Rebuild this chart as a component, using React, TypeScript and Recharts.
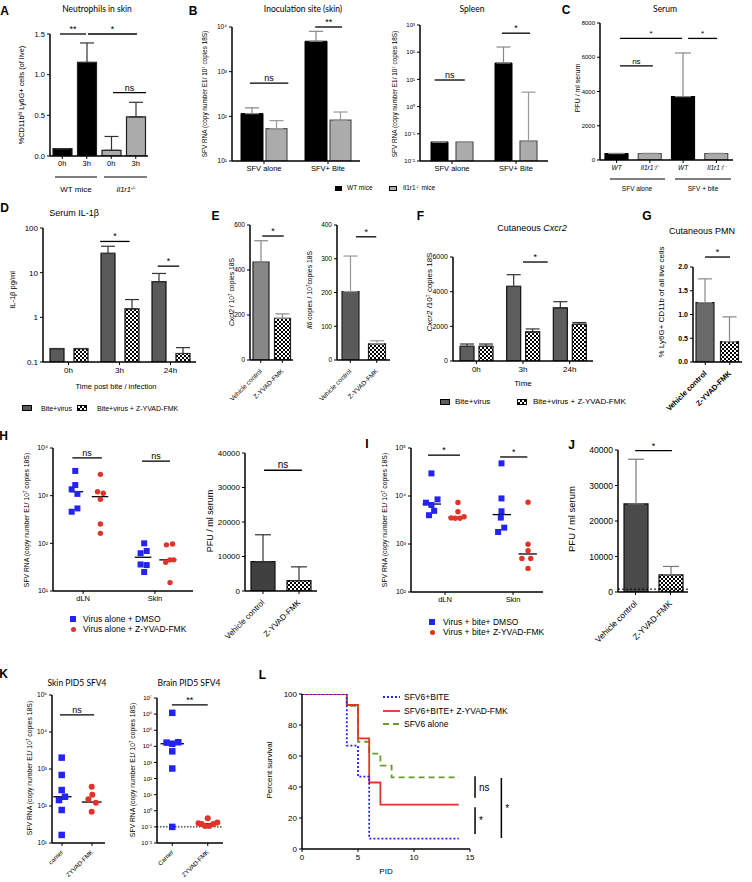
import React from 'react';
import {
  BarChart, Bar, XAxis, YAxis, ErrorBar, Cell, ReferenceLine,
  ScatterChart, Scatter, LineChart, Line,
} from 'recharts';

const FONT = '"Liberation Sans", Arial, Helvetica, sans-serif';
const TFONT = 'Lato, "Liberation Sans", sans-serif';
const BLUE = '#2424f2';
const RED = '#e0342a';
const GREEN = '#6b9a2e';

// ---------- A ----------
const aCats = ['0h', '3h', '0h', '3h'];
const aVals = [0.09, 1.15, 0.07, 0.48];
const aTop = [0.09, 1.39, 0.24, 0.66];
const aGroup = ['wt', 'wt', 'ko', 'ko'];
const aTicks = [0, 0.5, 1, 1.5];
// ---------- B ----------
const bCats = ['SFV alone', 'SFV+ Bite'];
const bSkinWT = [115, 4800];
const bSkinWTTop = [155, 8000];
const bSkinKO = [53, 82];
const bSkinKOTop = [80, 125];
const bSpleenWT = [0.05, 40];
const bSpleenWTTop = [0.05, 155];
const bSpleenKO = [0.05, 0.054];
const bSpleenKOTop = [0.05, 3.4];
// ---------- C ----------
const cCats = ['WT', 'Il1r1⁻/⁻', 'WT', 'Il1r1⁻/⁻'];
const cVals = [380, 380, 3700, 380];
const cTop = [380, 380, 6250, 380];
const cGroup = ['wt', 'ko', 'wt', 'ko'];
// ---------- D ----------
const dCats = ['0h', '3h', '24h'];
const dBite = [0.2, 27, 6.3];
const dBiteTop = [0.2, 39, 9.6];
const dZ = [0.2, 1.55, 0.155];
const dZTop = [0.2, 2.5, 0.21];
// ---------- E ----------
const eCats = ['Vehicle control', 'Z-YVAD-FMK'];
const eCxcl2 = [435, 185];
const eCxcl2Top = [530, 205];
const eIl6 = [203, 48];
const eIl6Top = [308, 57];
// ---------- F ----------
const fCats = ['0h', '3h', '24h'];
const fBite = [850, 4300, 3060];
const fBiteTop = [980, 4980, 3420];
const fZ = [850, 1680, 2120];
const fZTop = [980, 1850, 2220];
// ---------- G ----------
const gVals = [1.25, 0.43];
const gTop = [1.75, 0.95];
// ---------- H ----------
const hCats = ['dLN', 'Skin'];
const hDmsoX = [0.89, 0.89, 0.84, 0.92, 0.92, 0.84, 1.85, 1.885, 1.8, 1.885, 1.8, 1.85];
const hDmsoY = [3300, 1670, 1360, 1090, 540, 460, 100, 69, 62, 35, 36, 25];
const hZX = [1.24, 1.2, 1.28, 1.24, 1.24, 1.24, 2.16, 2.245, 2.21, 2.15, 2.26, 2.21];
const hZY = [2800, 1210, 1120, 840, 255, 162, 93, 97, 45, 40, 45, 15];
const hMed = [1210, 955, 51, 45];
const hMedX = [[0.82, 1.0], [1.12, 1.35], [1.72, 1.95], [2.06, 2.3]];
const hPfu = [8500, 3000];
const hPfuTop = [16300, 7000];
// ---------- I ----------
const iDmsoX = [0.8, 0.72, 0.89, 0.8, 0.84, 0.765, 1.83, 1.83, 1.83, 1.82, 1.87, 1.78];
const iDmsoY = [29600, 7250, 8500, 6500, 4900, 3980, 47900, 8900, 4800, 3550, 2190, 1780];
const iZX = [1.19, 1.19, 1.09, 1.15, 1.22, 1.28, 2.22, 2.22, 2.22, 2.13, 2.26, 2.22];
const iZY = [7300, 4700, 3500, 3450, 3450, 3700, 7400, 990, 725, 500, 500, 310];
const iMed = [6800, 3600, 4100, 620];
const iMedX = [[0.67, 0.94], [1.05, 1.31], [1.7, 1.97], [2.08, 2.35]];
// ---------- J ----------
const jPfu = [24800, 4800];
const jPfuTop = [37400, 7200];
const jLimit = 800;
// ---------- K ----------
const kCats = ['carrier', 'ZYVAD-FMK'];
const k1CarX = [0.99, 0.99, 0.99, 1.1, 0.9, 0.99, 0.99];
const k1CarY = [2030, 690, 270, 178, 145, 78, 16.5];
const k1ZX = [1.99, 2.01, 1.88, 2.13, 1.99];
const k1ZY = [330, 200, 152, 123, 70];
const k1Med = [178, 128];
const k1MedX = [[0.71, 1.32], [1.66, 2.32]];
const k2Cats = ['Carrier', 'ZYVAD-FMK'];
const k2CarX = [1.0, 0.84, 1.17, 1.0, 1.0, 1.0, 1.0];
const k2CarY = [1.2e6, 17000, 18000, 14500, 4900, 420, 0.1];
const k2ZX = [2.0, 1.74, 1.83, 1.93, 2.04, 2.16, 2.27];
const k2ZY = [0.34, 0.17, 0.15, 0.115, 0.115, 0.15, 0.19];
const k2Med = [14500, 0.16];
const k2MedX = [[0.67, 1.33], [1.69, 2.31]];
const k2Limit = 0.1;
// ---------- L ----------
const lBiteT = [0, 4, 5, 6, 14];
const lBiteS = [100, 66.7, 46.7, 6.7, 6.7];
const lZT = [0, 4, 5, 6, 7, 14];
const lZS = [100, 92.9, 71.4, 42.9, 28.6, 28.6];
const lAloneT = [0, 4, 5, 6, 7, 8, 14];
const lAloneS = [100, 92.3, 69.2, 61.5, 53.8, 46.2, 46.2];

// ---------- significance annotations (data coordinates) ----------
type Sig = { x1: number; x2: number; y: number; t: string };
const sigA: Sig[] = [
  { x1: 0.41, x2: 1.47, y: 1.5, t: '**' },
  { x1: 1.55, x2: 3.55, y: 1.5, t: '*' },
  { x1: 2.57, x2: 3.92, y: 0.78, t: 'ns' },
];
const sigB1: Sig[] = [
  { x1: 0.28, x2: 0.88, y: 556, t: 'ns' },
  { x1: 1.3, x2: 1.72, y: 10000, t: '**' },
];
const sigB2: Sig[] = [
  { x1: 0.23, x2: 0.7, y: 9.5, t: 'ns' },
  { x1: 1.28, x2: 1.72, y: 500, t: '*' },
];
const sigC: Sig[] = [
  { x1: 0.6, x2: 1.59, y: 5500, t: 'ns' },
  { x1: 0.6, x2: 2.47, y: 7100, t: '*' },
  { x1: 2.65, x2: 3.52, y: 7100, t: '*' },
];
const sigD: Sig[] = [
  { x1: 1.12, x2: 1.7, y: 50, t: '*' },
  { x1: 2.25, x2: 2.67, y: 14, t: '*' },
];
const sigE1: Sig[] = [{ x1: 0.57, x2: 1.57, y: 551, t: '*' }];
const sigE2: Sig[] = [{ x1: 0.72, x2: 1.48, y: 365, t: '*' }];
const sigF: Sig[] = [{ x1: 1.5, x2: 2.03, y: 5710, t: '*' }];
const sigG: Sig[] = [{ x1: 0.49, x2: 1.51, y: 2.21, t: '*' }];
const sigH1: Sig[] = [
  { x1: 0.85, x2: 1.26, y: 6200, t: 'ns' },
  { x1: 1.82, x2: 2.21, y: 5300, t: 'ns' },
];
const sigH2: Sig[] = [{ x1: 0.53, x2: 1.58, y: 35000, t: 'ns' }];
const sigI: Sig[] = [
  { x1: 0.75, x2: 1.22, y: 71000, t: '*' },
  { x1: 1.81, x2: 2.21, y: 65000, t: '*' },
];
const sigJ: Sig[] = [{ x1: 0.49, x2: 1.54, y: 39800, t: '*' }];
const sigK1: Sig[] = [{ x1: 0.93, x2: 2.07, y: 29000, t: 'ns' }];
const sigK2: Sig[] = [{ x1: 0.99, x2: 2.0, y: 3.7e6, t: '**' }];
type VSig = { x: number; y1: number; y2: number; t: string };
const sigL: VSig[] = [
  { x: 15.45, y1: 47, y2: 33, t: 'ns' },
  { x: 15.45, y1: 27, y2: 9.7, t: '*' },
  { x: 17.8, y1: 45.8, y2: 7.1, t: '*' },
];

// ---------- helpers ----------
const SUPS: Record<string, string> = { '-': '⁻', '0': '⁰', '1': '¹', '2': '²', '3': '³', '4': '⁴', '5': '⁵', '6': '⁶', '7': '⁷', '8': '⁸', '9': '⁹' };
const sup = (n: number) => String(n).split('').map((c) => SUPS[c]).join('');
const pow10 = (v: number) => '10' + sup(Math.round(Math.log10(v)));
const decades = (a: number, b: number) => {
  const r: number[] = [];
  for (let e = a; e <= b; e++) r.push(Math.pow(10, e));
  return r;
};

type Box = { x: number; y: number; w: number; h: number };
type Plot = { l: number; t: number; r: number; b: number };
const frame = (box: Box, p: Plot) => ({
  style: { position: 'absolute', left: box.x, top: box.y, width: box.w, height: box.h } as React.CSSProperties,
  margin: { top: p.t - box.y, right: box.x + box.w - p.r, left: 0, bottom: 0 },
  yw: p.l - box.x,
  xh: box.y + box.h - p.b,
  w: box.w,
  h: box.h,
});

const AX = { stroke: '#000', strokeWidth: 1.5 };
const TL = { stroke: '#000', strokeWidth: 1 };
const tk = (s: number, extra: any = {}) => ({ fontSize: s, fill: '#000', ...extra });

const sigLines = (list: Sig[], size: number, axisId?: string) =>
  list.map((s, i) => (
    <ReferenceLine
      key={'sig' + i}
      {...(axisId ? { xAxisId: axisId } : {})}
      segment={[{ x: s.x1, y: s.y }, { x: s.x2, y: s.y }]}
      stroke="#000"
      strokeWidth={1.3}
      ifOverflow="visible"
      label={{ value: s.t, position: 'top', offset: 2, fontSize: size, fill: '#000' }}
    />
  ));

const rotTick = (size: number, bold = false, names?: string[], gap = 5) => (p: any) => (
  <g transform={`translate(${p.x},${p.y + gap}) rotate(-45)`}>
    <text x={0} y={0} dy="0.35em" textAnchor="end" fontSize={size} fontWeight={bold ? 700 : 400} fill="#000">
      {names ? names[Math.round(p.payload.value) - 1] : p.payload.value}
    </text>
  </g>
);

const sq = (size: number) => (p: any) => (
  <rect x={p.cx - size / 2} y={p.cy - size / 2} width={size} height={size} fill={BLUE} />
);
const dot = (r: number) => (p: any) => <circle cx={p.cx} cy={p.cy} r={r} fill={RED} />;

const pts = (xs: number[], ys: number[]) => xs.map((x, i) => ({ x, y: ys[i] }));
const medLines = (vals: number[], xs: number[][]) =>
  vals.map((v, i) => (
    <ReferenceLine key={'m' + i} segment={[{ x: xs[i][0], y: v }, { x: xs[i][1], y: v }]} stroke="#000" strokeWidth={1.3} ifOverflow="visible" />
  ));

type TP = { x: number; y: number; s?: number; a?: 'start' | 'middle' | 'end'; r?: number; b?: boolean; i?: boolean; f?: string; children?: React.ReactNode };
function T({ x, y, s = 8, a = 'middle', r = 0, b = false, i = false, f = FONT, children }: TP) {
  const tx = a === 'middle' ? '-50%' : a === 'end' ? '-100%' : '0';
  return (
    <div
      style={{
        position: 'absolute', left: x, top: y,
        transform: `translate(${tx},-50%) rotate(${r}deg)`,
        fontSize: s, fontWeight: b ? 700 : 400, fontStyle: i ? 'italic' : 'normal',
        fontFamily: f, whiteSpace: 'nowrap', lineHeight: 1, color: '#000',
      }}
    >
      {children}
    </div>
  );
}
const Sup = ({ children }: { children: React.ReactNode }) => (
  <span style={{ fontSize: '0.65em', verticalAlign: '0.45em' }}>{children}</span>
);
const Swatch = ({ x, y, w, h, fill, chk }: { x: number; y: number; w: number; h: number; fill?: string; chk?: boolean }) => (
  <div
    style={{
      position: 'absolute', left: x, top: y - h / 2, width: w, height: h, boxSizing: 'border-box',
      border: '1px solid #000',
      background: chk ? 'repeating-conic-gradient(#000 0 25%, #fff 0 50%) 0 0 / 4px 4px' : fill,
    }}
  />
);

// ---------- rows (pos = category slot centre on the hidden numeric axis) ----------
const aRows = aCats.map((c, i) => ({ name: c, pos: i + 0.5, v: aVals[i], e: [0, aTop[i] - aVals[i]] }));
const pair = (cats: string[], a: number[], aT: number[], b: number[], bT: number[]) =>
  cats.map((c, i) => ({ name: c, pos: i + 0.5, a: a[i], ae: [0, aT[i] - a[i]], b: b[i], be: [0, bT[i] - b[i]] }));
const b1Rows = pair(bCats, bSkinWT, bSkinWTTop, bSkinKO, bSkinKOTop);
const b2Rows = pair(bCats, bSpleenWT, bSpleenWTTop, bSpleenKO, bSpleenKOTop);
const cRows = cCats.map((c, i) => ({ name: c, pos: i + 0.5, v: cVals[i], e: [0, cTop[i] - cVals[i]] }));
const dRows = pair(dCats, dBite, dBiteTop, dZ, dZTop);
const fRows = pair(fCats, fBite, fBiteTop, fZ, fZTop);
const single = (cats: string[], v: number[], t: number[]) => cats.map((c, i) => ({ name: c, pos: i + 0.5, v: v[i], e: [0, t[i] - v[i]] }));
const e1Rows = single(eCats, eCxcl2, eCxcl2Top);
const e2Rows = single(eCats, eIl6, eIl6Top);
const gRows = single(eCats, gVals, gTop);
const h2Rows = single(eCats, hPfu, hPfuTop);
const jRows = single(eCats, jPfu, jPfuTop);
const lBite = lBiteT.map((t, i) => ({ t, s: lBiteS[i] }));
const lZ = lZT.map((t, i) => ({ t, s: lZS[i] }));
const lAlone = lAloneT.map((t, i) => ({ t, s: lAloneS[i] }));

const hiddenAxis = (n: number) => (
  <XAxis xAxisId="n" dataKey="pos" type="number" domain={[0, n]} hide allowDataOverflow />
);

// ---------- frames ----------
const fA = frame({ x: 0, y: 20, w: 155, h: 152 }, { l: 50, t: 34, r: 148, b: 156 });
const fB1 = frame({ x: 190, y: 10, w: 173, h: 166 }, { l: 232, t: 27, r: 360, b: 161 });
const fB2 = frame({ x: 376, y: 10, w: 176, h: 166 }, { l: 420, t: 25, r: 548, b: 161 });
const fC = frame({ x: 565, y: 10, w: 175, h: 164 }, { l: 600, t: 23, r: 733, b: 160 });
const fD = frame({ x: 0, y: 215, w: 200, h: 160 }, { l: 43, t: 228, r: 196, b: 362 });
const fE1 = frame({ x: 205, y: 215, w: 92, h: 200 }, { l: 250, t: 225, r: 293, b: 360 });
const fE2 = frame({ x: 300, y: 215, w: 95, h: 200 }, { l: 337, t: 225, r: 390, b: 360 });
const fF = frame({ x: 420, y: 245, w: 178, h: 130 }, { l: 453, t: 257, r: 593, b: 361 });
const fG = frame({ x: 660, y: 238, w: 92, h: 184 }, { l: 693, t: 267, r: 742, b: 362 });
const fH1 = frame({ x: 0, y: 440, w: 200, h: 165 }, { l: 53, t: 448, r: 193, b: 591 });
const fH2 = frame({ x: 200, y: 440, w: 123, h: 215 }, { l: 245, t: 453, r: 317, b: 591 });
const fI = frame({ x: 380, y: 440, w: 170, h: 165 }, { l: 411, t: 448, r: 543, b: 592 });
const fJ = frame({ x: 575, y: 440, w: 120, h: 220 }, { l: 618, t: 450, r: 688, b: 592 });
const fK1 = frame({ x: 20, y: 690, w: 90, h: 192 }, { l: 52, t: 695, r: 105, b: 843 });
const fK2 = frame({ x: 115, y: 690, w: 115, h: 192 }, { l: 157, t: 698, r: 223, b: 843 });
const fL = frame({ x: 262, y: 680, w: 260, h: 186 }, { l: 302, t: 694, r: 470, b: 849 });

const grayFill = '#ababab';

export default function App() {
  return (
    <div style={{ position: 'absolute', left: 0, top: 0, width: 752, height: 882, background: '#fff', fontFamily: FONT, overflow: 'hidden' }}>
      <svg width={0} height={0} style={{ position: 'absolute' }}>
        <defs>
          <pattern id="chk" width={4} height={4} patternUnits="userSpaceOnUse">
            <rect width={4} height={4} fill="#fff" />
            <rect width={2} height={2} fill="#000" />
            <rect x={2} y={2} width={2} height={2} fill="#000" />
          </pattern>
        </defs>
      </svg>

      {/* group brackets */}
      <svg width={752} height={882} style={{ position: 'absolute', left: 0, top: 0 }}>
        <line x1={55} x2={97} y1={177} y2={177} stroke="#000" strokeWidth={1.2} />
        <line x1={104} x2={147} y1={177} y2={177} stroke="#000" strokeWidth={1.2} />
        <line x1={610} x2={665} y1={179} y2={179} stroke="#000" strokeWidth={1} />
        <line x1={675} x2={731} y1={179} y2={179} stroke="#000" strokeWidth={1} />
      </svg>

      {/* ================= A ================= */}
      <div style={fA.style}>
        <BarChart width={fA.w} height={fA.h} data={aRows} margin={fA.margin} barCategoryGap={0}>
          <XAxis dataKey="name" height={fA.xh} interval={0} tick={tk(7.5)} axisLine={AX} tickLine={TL} tickSize={3} />
          {hiddenAxis(4)}
          <YAxis width={fA.yw} domain={[0, 1.5]} ticks={aTicks} allowDataOverflow tickFormatter={(v: number) => v.toFixed(1)} tick={tk(7.5)} axisLine={AX} tickLine={TL} tickSize={3} />
          <Bar dataKey="v" barSize={19} stroke="#222" strokeWidth={1.2} isAnimationActive={false}>
            {aRows.map((r, i) => <Cell key={i} fill={aGroup[i] === 'wt' ? '#000' : grayFill} />)}
            <ErrorBar dataKey="e" width={7} stroke="#333" strokeWidth={1.2} />
          </Bar>
          {sigLines(sigA, 9, 'n')}
        </BarChart>
      </div>
      <T x={4.5} y={11} s={12} b>A</T>
      <T x={97} y={9} s={8.5} f={TFONT}>Neutrophils in skin</T>
      <T x={22} y={95} s={7.3} r={-90}>%CD11b<Sup>hi</Sup> Ly6G+ cells (of live)</T>
      <T x={76} y={190} s={8}>WT mice</T>
      <T x={126} y={190} s={7.5} i>Il1r1<Sup>-/-</Sup></T>

      {/* ================= B ================= */}
      <div style={fB1.style}>
        <BarChart width={fB1.w} height={fB1.h} data={b1Rows} margin={fB1.margin} barGap={3}>
          <XAxis dataKey="name" height={fB1.xh} interval={0} tick={tk(7.5)} axisLine={AX} tickLine={TL} tickSize={3} />
          {hiddenAxis(2)}
          <YAxis width={fB1.yw} type="number" scale="log" domain={[10, 10000]} ticks={decades(1, 4)} allowDataOverflow tickFormatter={pow10} tick={tk(6.5)} axisLine={AX} tickLine={TL} tickSize={3} />
          <Bar dataKey="a" barSize={22} fill="#000" stroke="#000" isAnimationActive={false}>
            <ErrorBar dataKey="ae" width={7} stroke="#888" strokeWidth={1.2} />
          </Bar>
          <Bar dataKey="b" barSize={21} fill={grayFill} stroke="#555" strokeWidth={1.2} isAnimationActive={false}>
            <ErrorBar dataKey="be" width={7} stroke="#999" strokeWidth={1.2} />
          </Bar>
          {sigLines(sigB1, 9, 'n')}
        </BarChart>
      </div>
      <div style={fB2.style}>
        <BarChart width={fB2.w} height={fB2.h} data={b2Rows} margin={fB2.margin} barGap={8}>
          <XAxis dataKey="name" height={fB2.xh} interval={0} tick={tk(7.5)} axisLine={AX} tickLine={TL} tickSize={3} />
          {hiddenAxis(2)}
          <YAxis width={fB2.yw} type="number" scale="log" domain={[0.01, 1000]} ticks={decades(-2, 3)} allowDataOverflow tickFormatter={pow10} tick={tk(6)} axisLine={AX} tickLine={TL} tickSize={3} />
          <Bar dataKey="a" barSize={17} fill="#000" stroke="#000" isAnimationActive={false}>
            <ErrorBar dataKey="ae" width={7} stroke="#888" strokeWidth={1.2} />
          </Bar>
          <Bar dataKey="b" barSize={17} fill={grayFill} stroke="#555" strokeWidth={1.2} isAnimationActive={false}>
            <ErrorBar dataKey="be" width={7} stroke="#999" strokeWidth={1.2} />
          </Bar>
          {sigLines(sigB2, 9, 'n')}
        </BarChart>
      </div>
      <T x={193} y={11} s={12} b>B</T>
      <T x={303} y={9} s={8.5} f={TFONT}>Inoculation site (skin)</T>
      <T x={472} y={9} s={8.5} f={TFONT}>Spleen</T>
      <T x={205} y={94} s={6.4} r={-90}>SFV RNA (copy number E1/ 10<Sup>7</Sup> copies 18S)</T>
      <T x={395} y={94} s={6.4} r={-90}>SFV RNA (copy number E1/ 10<Sup>7</Sup> copies 18S)</T>
      <Swatch x={335} y={188} w={7} h={5} fill="#000" />
      <T x={347} y={188} s={6.5} a="start">WT mice</T>
      <Swatch x={389} y={188} w={8} h={5} fill={grayFill} />
      <T x={403} y={188} s={6.5} a="start">Il1r1<Sup>-/-</Sup> mice</T>

      {/* ================= C ================= */}
      <div style={fC.style}>
        <BarChart width={fC.w} height={fC.h} data={cRows} margin={fC.margin} barCategoryGap={0}>
          <XAxis dataKey="name" height={fC.xh} interval={0} tick={tk(6.5, { fontStyle: 'italic' })} axisLine={AX} tickLine={TL} tickSize={3} />
          {hiddenAxis(4)}
          <YAxis width={fC.yw} domain={[0, 8000]} ticks={[0, 2000, 4000, 6000, 8000]} allowDataOverflow tick={tk(6)} axisLine={AX} tickLine={TL} tickSize={3} />
          <Bar dataKey="v" barSize={23} strokeWidth={1.2} isAnimationActive={false}>
            {cRows.map((r, i) => <Cell key={i} fill={cGroup[i] === 'wt' ? '#000' : grayFill} stroke={cGroup[i] === 'wt' ? '#000' : '#555'} />)}
            <ErrorBar dataKey="e" width={8} stroke="#888" strokeWidth={1.2} />
          </Bar>
          {sigLines(sigC, 8, 'n')}
        </BarChart>
      </div>
      <T x={566} y={10} s={12} b>C</T>
      <T x={665} y={9} s={8.5} f={TFONT}>Serum</T>
      <T x={577} y={88} s={7} r={-90}>PFU / ml serum</T>
      <T x={637} y={189} s={6.5}>SFV alone</T>
      <T x={703} y={189} s={6.5}>SFV + bite</T>

      {/* ================= D ================= */}
      <div style={fD.style}>
        <BarChart width={fD.w} height={fD.h} data={dRows} margin={fD.margin} barGap={10}>
          <XAxis dataKey="name" height={fD.xh} interval={0} tick={tk(8)} axisLine={AX} tickLine={TL} tickSize={3} />
          {hiddenAxis(3)}
          <YAxis width={fD.yw} type="number" scale="log" domain={[0.1, 100]} ticks={[0.1, 1, 10, 100]} allowDataOverflow tickFormatter={(v: number) => String(v)} tick={tk(8)} axisLine={AX} tickLine={TL} tickSize={3} />
          <Bar dataKey="a" barSize={14} fill="#5a5a5a" stroke="#111" strokeWidth={1.2} isAnimationActive={false}>
            <ErrorBar dataKey="ae" width={7} stroke="#333" strokeWidth={1.2} />
          </Bar>
          <Bar dataKey="b" barSize={14} fill="url(#chk)" stroke="#111" strokeWidth={1.2} isAnimationActive={false}>
            <ErrorBar dataKey="be" width={7} stroke="#333" strokeWidth={1.2} />
          </Bar>
          {sigLines(sigD, 9, 'n')}
        </BarChart>
      </div>
      <T x={4.5} y={208} s={12} b>D</T>
      <T x={74} y={213} s={9}>Serum IL-1β</T>
      <T x={13} y={290} s={7.5} r={-90}>IL-1β pg/ml</T>
      <T x={116} y={387} s={7.5}>Time post bite / infection</T>
      <Swatch x={22} y={408} w={10} h={6} fill="#5a5a5a" />
      <T x={41} y={408} s={7} a="start">Bite+virus</T>
      <Swatch x={77} y={408} w={10} h={6} chk />
      <T x={97} y={408} s={7} a="start">Bite+virus + Z-YVAD-FMK</T>

      {/* ================= E ================= */}
      <div style={fE1.style}>
        <BarChart width={fE1.w} height={fE1.h} data={e1Rows} margin={fE1.margin} barCategoryGap={0}>
          <XAxis dataKey="name" height={fE1.xh} interval={0} tick={rotTick(6.5)} axisLine={AX} tickLine={TL} tickSize={3} />
          {hiddenAxis(2)}
          <YAxis width={fE1.yw} domain={[0, 600]} ticks={[0, 200, 400, 600]} allowDataOverflow tick={tk(6.5)} axisLine={AX} tickLine={TL} tickSize={3} />
          <Bar dataKey="v" barSize={16} stroke="#222" strokeWidth={1.2} isAnimationActive={false}>
            <Cell fill="#878787" />
            <Cell fill="url(#chk)" />
            <ErrorBar dataKey="e" width={7} stroke="#888" strokeWidth={1.2} />
          </Bar>
          {sigLines(sigE1, 9, 'n')}
        </BarChart>
      </div>
      <div style={fE2.style}>
        <BarChart width={fE2.w} height={fE2.h} data={e2Rows} margin={fE2.margin} barCategoryGap={0}>
          <XAxis dataKey="name" height={fE2.xh} interval={0} tick={rotTick(6.5)} axisLine={AX} tickLine={TL} tickSize={3} />
          {hiddenAxis(2)}
          <YAxis width={fE2.yw} domain={[0, 400]} ticks={[0, 100, 200, 300, 400]} allowDataOverflow tick={tk(6.5)} axisLine={AX} tickLine={TL} tickSize={3} />
          <Bar dataKey="v" barSize={17} stroke="#222" strokeWidth={1.2} isAnimationActive={false}>
            <Cell fill="#5a5a5a" />
            <Cell fill="url(#chk)" />
            <ErrorBar dataKey="e" width={7} stroke="#999" strokeWidth={1.2} />
          </Bar>
          {sigLines(sigE2, 9, 'n')}
        </BarChart>
      </div>
      <T x={215.5} y={215.5} s={12} b>E</T>
      <T x={232} y={292} s={6.8} r={-90}><i>Cxcl2</i> / 10<Sup>7</Sup> copies 18S</T>
      <T x={310} y={290} s={6.8} r={-90}><i>Il6</i> copies / 10<Sup>7</Sup>copies 18S</T>

      {/* ================= F ================= */}
      <div style={fF.style}>
        <BarChart width={fF.w} height={fF.h} data={fRows} margin={fF.margin} barGap={5}>
          <XAxis dataKey="name" height={fF.xh} interval={0} tick={tk(8)} axisLine={AX} tickLine={TL} tickSize={3} />
          {hiddenAxis(3)}
          <YAxis width={fF.yw} domain={[0, 6000]} ticks={[0, 2000, 4000, 6000]} allowDataOverflow tick={tk(7)} axisLine={AX} tickLine={TL} tickSize={3} />
          <Bar dataKey="a" barSize={14} fill="#5d5d5d" stroke="#111" strokeWidth={1.2} isAnimationActive={false}>
            <ErrorBar dataKey="ae" width={7} stroke="#333" strokeWidth={1.2} />
          </Bar>
          <Bar dataKey="b" barSize={14} fill="url(#chk)" stroke="#111" strokeWidth={1.2} isAnimationActive={false}>
            <ErrorBar dataKey="be" width={7} stroke="#333" strokeWidth={1.2} />
          </Bar>
          {sigLines(sigF, 9, 'n')}
        </BarChart>
      </div>
      <T x={420.5} y={215.5} s={12} b>F</T>
      <T x={532} y={228} s={9}>Cutaneous <i>Cxcr2</i></T>
      <T x={430} y={292} s={8} r={-90}><i>Cxcr2</i> /10<Sup>7</Sup> copies 18S</T>
      <T x={523} y={384} s={8}>Time</T>
      <Swatch x={440} y={402} w={10} h={6} fill="#5d5d5d" />
      <T x={455} y={402} s={8} a="start">Bite+virus</T>
      <Swatch x={517} y={402} w={10} h={6} chk />
      <T x={533} y={402} s={8} a="start">Bite+virus + Z-YVAD-FMK</T>

      {/* ================= G ================= */}
      <div style={fG.style}>
        <BarChart width={fG.w} height={fG.h} data={gRows} margin={fG.margin} barCategoryGap={0}>
          <XAxis dataKey="name" height={fG.xh} interval={0} tick={rotTick(7.5, true)} axisLine={AX} tickLine={TL} tickSize={3} />
          {hiddenAxis(2)}
          <YAxis width={fG.yw} domain={[0, 2]} ticks={[0, 0.5, 1, 1.5, 2]} allowDataOverflow tickFormatter={(v: number) => v.toFixed(1)} tick={tk(7, { fontWeight: 700 })} axisLine={AX} tickLine={TL} tickSize={3} />
          <Bar dataKey="v" barSize={18} stroke="#222" strokeWidth={1.2} isAnimationActive={false}>
            <Cell fill="#6a6a6a" />
            <Cell fill="url(#chk)" />
            <ErrorBar dataKey="e" width={7} stroke="#888" strokeWidth={1.2} />
          </Bar>
          {sigLines(sigG, 9, 'n')}
        </BarChart>
      </div>
      <T x={647} y={216} s={12} b>G</T>
      <T x={669} y={231} s={9} a="start">Cutaneous PMN</T>
      <T x={662} y={302} s={8} r={-90}>% Ly6G+ CD11b of all live cells</T>

      {/* ================= H ================= */}
      <div style={fH1.style}>
        <ScatterChart width={fH1.w} height={fH1.h} margin={fH1.margin}>
          <XAxis type="number" dataKey="x" domain={[0.58, 2.53]} ticks={[1, 2]} allowDataOverflow tickFormatter={(v: number) => hCats[Math.round(v) - 1]} height={fH1.xh} tick={tk(7.5)} axisLine={AX} tickLine={TL} tickSize={3} />
          <YAxis type="number" dataKey="y" scale="log" domain={[10, 10000]} ticks={decades(1, 4)} allowDataOverflow tickFormatter={pow10} width={fH1.yw} tick={tk(7)} axisLine={AX} tickLine={TL} tickSize={3} />
          <Scatter data={pts(hDmsoX, hDmsoY)} shape={sq(6)} isAnimationActive={false} />
          <Scatter data={pts(hZX, hZY)} shape={dot(2.7)} isAnimationActive={false} />
          {medLines(hMed, hMedX)}
          {sigLines(sigH1, 9)}
        </ScatterChart>
      </div>
      <div style={fH2.style}>
        <BarChart width={fH2.w} height={fH2.h} data={h2Rows} margin={fH2.margin} barCategoryGap={0}>
          <XAxis dataKey="name" height={fH2.xh} interval={0} tick={rotTick(8)} axisLine={AX} tickLine={TL} tickSize={3} />
          {hiddenAxis(2)}
          <YAxis width={fH2.yw} domain={[0, 40000]} ticks={[0, 10000, 20000, 30000, 40000]} allowDataOverflow tick={tk(8)} axisLine={AX} tickLine={TL} tickSize={3} />
          <Bar dataKey="v" barSize={24} stroke="#111" strokeWidth={1.2} isAnimationActive={false}>
            <Cell fill="#404040" />
            <Cell fill="url(#chk)" />
            <ErrorBar dataKey="e" width={8} stroke="#333" strokeWidth={1.2} />
          </Bar>
          {sigLines(sigH2, 10, 'n')}
        </BarChart>
      </div>
      <T x={3.5} y={436} s={12} b>H</T>
      <T x={27} y={520} s={6.8} r={-90}>SFV RNA (copy number E1/ 10<Sup>7</Sup> copies 18S)</T>
      <T x={210} y={521} s={9} r={-90}>PFU / ml serum</T>
      <div style={{ position: 'absolute', left: 70, top: 616, width: 6, height: 6, background: BLUE }} />
      <T x={83} y={619} s={8.5} a="start">Virus alone + DMSO</T>
      <div style={{ position: 'absolute', left: 70.5, top: 626.5, width: 5, height: 5, borderRadius: '50%', background: RED }} />
      <T x={83} y={629} s={8.5} a="start">Virus alone + Z-YVAD-FMK</T>

      {/* ================= I ================= */}
      <div style={fI.style}>
        <ScatterChart width={fI.w} height={fI.h} margin={fI.margin}>
          <XAxis type="number" dataKey="x" domain={[0.5, 2.44]} ticks={[1, 2]} allowDataOverflow tickFormatter={(v: number) => hCats[Math.round(v) - 1]} height={fI.xh} tick={tk(7.5)} axisLine={AX} tickLine={TL} tickSize={3} />
          <YAxis type="number" dataKey="y" scale="log" domain={[100, 100000]} ticks={decades(2, 5)} allowDataOverflow tickFormatter={pow10} width={fI.yw} tick={tk(7)} axisLine={AX} tickLine={TL} tickSize={3} />
          <Scatter data={pts(iDmsoX, iDmsoY)} shape={sq(6)} isAnimationActive={false} />
          <Scatter data={pts(iZX, iZY)} shape={dot(2.7)} isAnimationActive={false} />
          {medLines(iMed, iMedX)}
          {sigLines(sigI, 9)}
        </ScatterChart>
      </div>
      <T x={367} y={444} s={12} b>I</T>
      <T x={385} y={520} s={6.8} r={-90}>SFV RNA (copy number E1/ 10<Sup>7</Sup> copies 18S)</T>
      <div style={{ position: 'absolute', left: 429, top: 619, width: 6, height: 6, background: BLUE }} />
      <T x={443} y={622} s={8.5} a="start">Virus + bite+ DMSO</T>
      <div style={{ position: 'absolute', left: 429.5, top: 629.5, width: 5, height: 5, borderRadius: '50%', background: RED }} />
      <T x={443} y={632} s={8.5} a="start">Virus + bite+ Z-YVAD-FMK</T>

      {/* ================= J ================= */}
      <div style={fJ.style}>
        <BarChart width={fJ.w} height={fJ.h} data={jRows} margin={fJ.margin} barCategoryGap={0}>
          <XAxis dataKey="name" height={fJ.xh} interval={0} tick={rotTick(8.5)} axisLine={AX} tickLine={TL} tickSize={3} />
          {hiddenAxis(2)}
          <YAxis width={fJ.yw} domain={[0, 40000]} ticks={[0, 10000, 20000, 30000, 40000]} allowDataOverflow tick={tk(8.5)} axisLine={AX} tickLine={TL} tickSize={3} />
          <Bar dataKey="v" barSize={24} stroke="#111" strokeWidth={1.2} isAnimationActive={false}>
            <Cell fill="#4a4a4a" />
            <Cell fill="url(#chk)" />
            <ErrorBar dataKey="e" width={8} stroke="#777" strokeWidth={1.2} />
          </Bar>
          <ReferenceLine y={jLimit} stroke="#000" strokeDasharray="2 2" strokeWidth={1} />
          {sigLines(sigJ, 9, 'n')}
        </BarChart>
      </div>
      <T x={571.5} y={445} s={12} b>J</T>
      <T x={572} y={519} s={9.5} r={-90}>PFU / ml serum</T>

      {/* ================= K ================= */}
      <div style={fK1.style}>
        <ScatterChart width={fK1.w} height={fK1.h} margin={fK1.margin}>
          <XAxis type="number" dataKey="x" domain={[0.667, 2.433]} ticks={[1, 2]} allowDataOverflow height={fK1.xh} tick={rotTick(6.2, false, kCats, 3)} axisLine={AX} tickLine={TL} tickSize={3} />
          <YAxis type="number" dataKey="y" scale="log" domain={[10, 100000]} ticks={decades(1, 5)} allowDataOverflow tickFormatter={pow10} width={fK1.yw} tick={tk(6.5)} axisLine={AX} tickLine={TL} tickSize={3} />
          <Scatter data={pts(k1CarX, k1CarY)} shape={sq(6.5)} isAnimationActive={false} />
          <Scatter data={pts(k1ZX, k1ZY)} shape={dot(3)} isAnimationActive={false} />
          {medLines(k1Med, k1MedX)}
          {sigLines(sigK1, 9)}
        </ScatterChart>
      </div>
      <div style={fK2.style}>
        <ScatterChart width={fK2.w} height={fK2.h} margin={fK2.margin}>
          <XAxis type="number" dataKey="x" domain={[0.57, 2.43]} ticks={[1, 2]} allowDataOverflow height={fK2.xh} tick={rotTick(6.2, false, k2Cats, 3)} axisLine={AX} tickLine={TL} tickSize={3} />
          <YAxis type="number" dataKey="y" scale="log" domain={[0.01, 1e7]} ticks={decades(-2, 7)} allowDataOverflow tickFormatter={pow10} width={fK2.yw} tick={tk(6)} axisLine={AX} tickLine={TL} tickSize={3} />
          <ReferenceLine y={k2Limit} stroke="#000" strokeDasharray="1.5 1.5" strokeWidth={1} />
          <Scatter data={pts(k2CarX, k2CarY)} shape={sq(6.5)} isAnimationActive={false} />
          <Scatter data={pts(k2ZX, k2ZY)} shape={dot(3)} isAnimationActive={false} />
          {medLines(k2Med, k2MedX)}
          {sigLines(sigK2, 9)}
        </ScatterChart>
      </div>
      <T x={3.5} y={674} s={12} b>K</T>
      <T x={77} y={683} s={8.5} f={TFONT}>Skin PID5 SFV4</T>
      <T x={189} y={683} s={8.5} f={TFONT}>Brain PID5 SFV4</T>
      <T x={30} y={768} s={6.8} r={-90}>SFV RNA (copy number E1/ 10<Sup>7</Sup> copies 18S)</T>
      <T x={133} y={770} s={6.8} r={-90}>SFV RNA (copy number E1/ 10<Sup>7</Sup> copies 18S)</T>

      {/* ================= L ================= */}
      <div style={fL.style}>
        <LineChart width={fL.w} height={fL.h} margin={fL.margin}>
          <XAxis type="number" dataKey="t" domain={[0, 15]} ticks={[0, 5, 10, 15]} allowDataOverflow height={fL.xh} tick={tk(8)} axisLine={AX} tickLine={TL} tickSize={3} />
          <YAxis type="number" domain={[0, 100]} ticks={[0, 20, 40, 60, 80, 100]} allowDataOverflow width={fL.yw} tick={tk(8)} axisLine={AX} tickLine={TL} tickSize={3} />
          <Line data={lAlone} dataKey="s" type="stepAfter" stroke={GREEN} strokeWidth={1.8} strokeDasharray="6 4" dot={false} isAnimationActive={false} />
          <Line data={lZ} dataKey="s" type="stepAfter" stroke={RED} strokeWidth={1.8} dot={false} isAnimationActive={false} />
          <Line data={lBite} dataKey="s" type="stepAfter" stroke={BLUE} strokeWidth={1.8} strokeDasharray="2 2" dot={false} isAnimationActive={false} />
          {sigL.map((s, i) => (
            <ReferenceLine
              key={'l' + i}
              segment={[{ x: s.x, y: s.y1 }, { x: s.x, y: s.y2 }]}
              stroke="#000"
              strokeWidth={1.5}
              ifOverflow="visible"
              label={{ value: s.t, position: 'right', offset: 4, fontSize: 10, fill: '#000' }}
            />
          ))}
        </LineChart>
      </div>
      <T x={262.5} y={675} s={12} b>L</T>
      <T x={270} y={770} s={8} r={-90}>Percent survival</T>
      <T x={386} y={872} s={8}>PID</T>
      <svg width={20} height={40} style={{ position: 'absolute', left: 382, top: 690 }}>
        <line x1={1} x2={18} y1={7} y2={7} stroke={BLUE} strokeWidth={1.8} strokeDasharray="2 2" />
        <line x1={1} x2={18} y1={21} y2={21} stroke={RED} strokeWidth={1.8} />
        <line x1={1} x2={18} y1={34} y2={34} stroke={GREEN} strokeWidth={1.8} strokeDasharray="6 4" />
      </svg>
      <T x={404} y={697} s={8.5} a="start">SFV6+BITE</T>
      <T x={404} y={711} s={8.5} a="start">SFV6+BITE+ Z-YVAD-FMK</T>
      <T x={404} y={724} s={8.5} a="start">SFV6 alone</T>
    </div>
  );
}
